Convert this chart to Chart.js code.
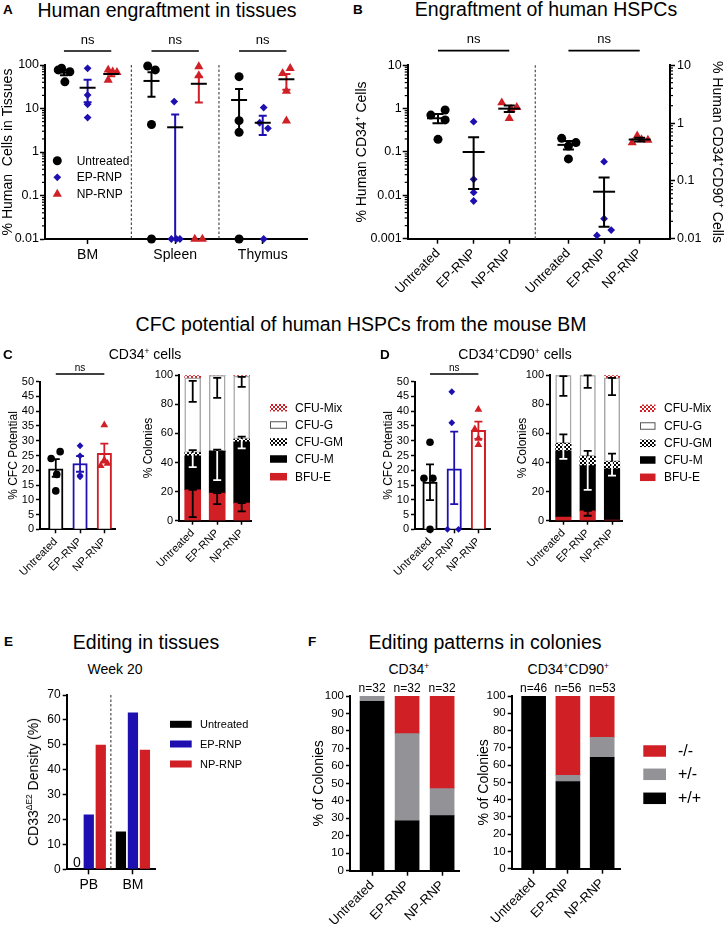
<!DOCTYPE html>
<html>
<head>
<meta charset="utf-8">
<script src="https://cdn.jsdelivr.net/npm/chart.js@4.4.1/dist/chart.umd.min.js"></script>
<style>
  html, body { margin:0; padding:0; background:#fff; }
  #fig { position:relative; width:726px; height:926px; overflow:hidden; font-family:"Liberation Sans", Arial, Helvetica, sans-serif; color:#000; }
  .t { position:absolute; white-space:nowrap; line-height:1; }
  .t sup { font-size:0.6em; line-height:0; vertical-align:0; position:relative; top:-0.6em; }
  canvas { position:absolute; }
</style>
</head>
<body>
<div id="fig"></div>
<script>
// ======================= DATA =======================
const treatments = ['Untreated', 'EP-RNP', 'NP-RNP'];

// Panel A: % human cells per mouse (undetectable plotted at axis floor 0.01)
const tissuesA = ['BM', 'Spleen', 'Thymus'];
const aUntreated = [[84, 77, 70, 41], [95, 77, 4.3, 0.01], [54, 5.25, 2.83, 0.01]];
const aEP = [[84, 20.4, 12.5, 6.2], [14.4, 0.01, 0.01, 0.01], [10.5, 4.7, 3.5, 0.01]];
const aNP = [[77, 70, 68, 45], [92, 57, 0.01, 0.01], [84, 64, 25, 5.2]];
const aMean = [[67, 30, 62], [43, 3.7, 37], [15.7, 4.7, 47]];
const aLow = [[58, 14, 55], [18.7, 0.01, 13.8], [3, 2.46, 27]];
const aHigh = [[76, 46, 68], [68, 7.3, 54], [28, 6.8, 62]];
const aTicks = [0.01, 0.1, 1, 10, 100];

// Panel B
const bCD34 = [[0.71, 0.93, 0.55, 0.196], [0.5, 0.0234, 0.0117, 0.0074], [1.37, 1.07, 0.6, 0.98]];
const bCD34Mean = [0.6, 0.1, 1.0];
const bCD34Low = [0.46, 0.014, 0.84];
const bCD34High = [0.75, 0.218, 1.19];
const bCD90 = [[0.545, 0.46, 0.40, 0.24], [0.215, 0.0222, 0.0141, 0.0114], [0.458, 0.6, 0.52, 0.51]];
const bCD90Mean = [0.42, 0.065, 0.52];
const bCD90Low = [0.35, 0.0161, 0.48];
const bCD90High = [0.49, 0.115, 0.56];
const bTicksLeft = [0.001, 0.01, 0.1, 1, 10];
const bTicksRight = [0.01, 0.1, 1, 10];

// Panel C (CD34+)
const cCFC = [[24, 26.3, 18.6, 13], [28.3, 24.9, 18.3, 17.8], [35.3, 21.5, 22.3, 23.5]];
const cCFCMean = [20.5, 22.3, 25.7];
const cCFCLow = [17.8, 19.5, 22.6];
const cCFCHigh = [23.8, 24.8, 29];
const colonyTypes = ['CFU-Mix', 'CFU-G', 'CFU-GM', 'CFU-M', 'BFU-E'];
const cBFUE = [21.2, 19.0, 12.1];
const cCFUM = [23.5, 28.9, 42.2];
const cCFUGM = [2.1, 0, 1.9];
const cCFUG = [51.4, 52.1, 43.3];
const cCFUMix = [1.8, 0, 0.5];
const cErrBFUE = [[2.5, 21.2], [11.4, 19.0], [6.4, 12.1]];
const cErrMGM = [[36.8, 48.6], [27.9, 48.9], [49.8, 57.8]];
const cErrG = [[81.7, 96.1], [84.5, 98.2], [92, 98.9]];

// Panel D (CD34+CD90+)
const dCFC = [[29.5, 17.3, 17.3, 0], [46.6, 36.1, 0, 0], [40.6, 34.0, 30.8, 28.6]];
const dCFCMean = [16.0, 20.5, 33.5];
const dCFCLow = [9.9, 8.5, 30.6];
const dCFCHigh = [22, 33.1, 36.5];
const dBFUE = [2.5, 6.8, 0.5];
const dCFUM = [45.5, 31.1, 35.1];
const dCFUGM = [5.2, 6.4, 5.0];
const dCFUG = [46.8, 55.7, 57.6];
const dCFUMix = [0, 0, 1.8];
const dErrBFUE = [null, [3.4, 6.8], null];
const dErrMGM = [[42.5, 59.4], [21.2, 48], [31, 46.1]];
const dErrG = [[85.8, 99.5], [91.3, 100], [86.3, 98.2]];

// Panel E
const eTissues = ['PB', 'BM'];
const eUntreated = [0, 15.2];
const eEP = [22, 63];
const eNP = [50, 48];

// Panel F
const genotypes = ['-/-', '+/-', '+/+'];
const fCD34WT = [97, 28.5, 31.5];
const fCD34Het = [3, 50, 15.5];
const fCD34KO = [0, 21.5, 53];
const fCD34N = [32, 32, 32];
const fCD90WT = [100, 50.5, 64.5];
const fCD90Het = [0, 3.5, 11.5];
const fCD90KO = [0, 46, 24];
const fCD90N = [46, 56, 53];

// ======================= LAYOUT / STYLE =======================
// scatter spread of individual mice around their column (x units)
const aJitU = [[-0.1, -0.24, 0.25, 0.04], [-0.16, 0.16, 0, 0], [0, 0, 0, 0]];
const aJitE = [[0, 0, 0, 0], [-0.04, -0.16, 0.05, 0.2], [0.04, -0.13, 0.22, 0.04]];
const aJitN = [[-0.13, 0.06, 0.24, -0.13], [0, 0, -0.17, 0.15], [0.16, -0.16, 0, 0]];
const bJit34 = [[-0.2, 0.2, 0.2, 0], [0, 0, 0, 0], [-0.21, 0.21, 0, 0.05]];
const bJit90 = [[-0.19, 0.21, 0, 0], [0, 0, 0.2, -0.2], [-0.21, -0.07, 0.05, 0.23]];
const cJit = [[-0.19, 0.18, 0.04, 0], [0, 0, 0, 0], [0, -0.15, 0.13, 0]];
const dJit = [[0, -0.25, 0.12, 0], [-0.1, -0.1, -0.28, 0.18], [0, -0.15, 0, 0]];
const A_X = [0, 3.7, 7.4];
const B_X = [0, 1, 2, 3.66, 4.66, 5.66];

const BLACK = '#000000', BLUE = '#1e10b0', RED = '#d11f26', GRAY = '#939397';
const SERIES = [{style: 'circle', color: BLACK}, {style: 'rectRot', color: BLUE}, {style: 'triangle', color: RED}];
const FONT = '"Liberation Sans", Arial, Helvetica, sans-serif';
Chart.defaults.font.family = FONT;
Chart.defaults.color = '#000';
Chart.defaults.animation = false;
Chart.defaults.plugins.legend.display = false;
Chart.defaults.plugins.tooltip.enabled = false;

const fig = document.getElementById('fig');

function checker(c1, c2, s) {
  const cv = document.createElement('canvas'); cv.width = cv.height = 2 * s;
  const g = cv.getContext('2d');
  g.fillStyle = c1; g.fillRect(0, 0, 2 * s, 2 * s);
  g.fillStyle = c2; g.fillRect(0, 0, s, s); g.fillRect(s, s, s, s);
  return g.createPattern(cv, 'repeat');
}
const gmPattern = checker('#ffffff', '#000000', 2);
const mixPattern = checker('#ffffff', RED, 2);

function marker(ctx, style, x, y, r, col) {
  ctx.fillStyle = col; ctx.beginPath();
  if (style === 'circle') ctx.arc(x, y, r, 0, Math.PI * 2);
  else if (style === 'rectRot') { ctx.moveTo(x, y - r); ctx.lineTo(x + r, y); ctx.lineTo(x, y + r); ctx.lineTo(x - r, y); ctx.closePath(); }
  else {
    for (let k = 0; k < 3; k++) {
      const a = k * 2 * Math.PI / 3; const px = x + Math.sin(a) * r, py = y - Math.cos(a) * r;
      if (k) ctx.lineTo(px, py); else ctx.moveTo(px, py);
    }
    ctx.closePath();
  }
  ctx.fill();
}

const DECO = new Map();
const decoPlugin = {
  id: 'deco',
  beforeDatasetsDraw(chart) {
    const o = DECO.get(chart.canvas); if (!o || !o.vlines) return;
    const ctx = chart.ctx, ca = chart.chartArea, xs = chart.scales.x;
    ctx.save(); ctx.strokeStyle = '#4d4d4d'; ctx.lineWidth = 1.2; ctx.setLineDash([2.5, 2]);
    o.vlines.forEach(v => { const x = xs.getPixelForValue(v); ctx.beginPath(); ctx.moveTo(x, ca.top - (o.vlineUp || 0)); ctx.lineTo(x, ca.bottom); ctx.stroke(); });
    ctx.restore();
  },
  afterDatasetsDraw(chart) {
    const o = DECO.get(chart.canvas); if (!o) return;
    const ctx = chart.ctx, ca = chart.chartArea, xs = chart.scales.x;
    const ox = o.origin[0], oy = o.origin[1];
    ctx.save();
    const es = o.errStyle || {};
    (o.errs || []).forEach(e => {
      if (!e) return;
      const ys = chart.scales[e.yID || 'y'];
      const x = xs.getPixelForValue(e.x);
      const yl = ys.getPixelForValue(e.lo), yh = ys.getPixelForValue(e.hi);
      const cw = (es.capW || 8) / 2;
      ctx.lineWidth = es.lw || 2; ctx.lineCap = 'butt';
      const seg = (ya, yb, col, capA, capB) => {
        ctx.strokeStyle = col; ctx.beginPath(); ctx.moveTo(x, ya); ctx.lineTo(x, yb);
        if (capA) { ctx.moveTo(x - cw, ya); ctx.lineTo(x + cw, ya); }
        if (capB) { ctx.moveTo(x - cw, yb); ctx.lineTo(x + cw, yb); }
        ctx.stroke();
      };
      if (e.split != null) {
        if (e.split >= e.hi) seg(yl, yh, '#fff', true, true);
        else if (e.split <= e.lo) seg(yl, yh, '#000', true, true);
        else { const ysp = ys.getPixelForValue(e.split); seg(yl, ysp, '#fff', true, false); seg(ysp, yh, '#000', false, true); }
      } else seg(yl, yh, e.color || '#000', e.capLo !== false, true);
      if (e.mean != null) {
        const ym = ys.getPixelForValue(e.mean), mw = (es.meanW || 16) / 2;
        ctx.strokeStyle = '#000'; ctx.beginPath(); ctx.moveTo(x - mw, ym); ctx.lineTo(x + mw, ym); ctx.stroke();
      }
    });
    (o.sig || []).forEach(g => {
      const x1 = xs.getPixelForValue(g.x1), x2 = xs.getPixelForValue(g.x2), y = g.y - oy;
      ctx.strokeStyle = '#000'; ctx.lineWidth = g.lw || 1.7;
      ctx.beginPath(); ctx.moveTo(x1, y); ctx.lineTo(x2, y); ctx.stroke();
      ctx.fillStyle = '#000'; ctx.font = g.size + 'px ' + FONT; ctx.textAlign = 'center'; ctx.textBaseline = 'alphabetic';
      ctx.fillText('ns', (x1 + x2) / 2, g.ty - oy);
    });
    (o.texts || []).forEach(t => {
      const ys = chart.scales[t.yID || 'y'];
      ctx.fillStyle = '#000'; ctx.font = t.size + 'px ' + FONT; ctx.textAlign = 'center'; ctx.textBaseline = 'alphabetic';
      ctx.fillText(t.text, xs.getPixelForValue(t.x), ys.getPixelForValue(t.y) + t.dy);
    });
    if (o.zeroLabels) {
      ctx.fillStyle = '#000'; ctx.font = o.zeroLabels.size + 'px ' + FONT; ctx.textAlign = 'center'; ctx.textBaseline = 'alphabetic';
      chart.data.datasets.forEach((ds, i) => {
        const meta = chart.getDatasetMeta(i);
        ds.data.forEach((v, j) => { if (v === 0) { const el = meta.data[j]; ctx.fillText('0', el.x, el.y - 2.5); } });
      });
    }
    (o.legend || []).forEach(it => {
      const x = it.x - ox, y = it.y - oy;
      if (it.point) marker(ctx, it.point, x, y, it.r, it.color);
      else {
        ctx.fillStyle = it.fill; ctx.fillRect(x, y - it.h / 2, it.w, it.h);
        if (it.stroke) { ctx.strokeStyle = it.stroke; ctx.lineWidth = 1; ctx.strokeRect(x + 0.5, y - it.h / 2 + 0.5, it.w - 1, it.h - 1); }
      }
      ctx.fillStyle = '#000'; ctx.font = it.size + 'px ' + FONT; ctx.textAlign = 'left'; ctx.textBaseline = 'middle';
      ctx.fillText(it.label, it.tx - ox, y + 0.5);
    });
    ctx.restore();
  },
  afterDraw(chart) {
    const o = DECO.get(chart.canvas); if (!o || !o.minor) return;
    const ctx = chart.ctx; ctx.save(); ctx.strokeStyle = '#000'; ctx.lineWidth = 1.2;
    o.minor.forEach(id => {
      const s = chart.scales[id]; const right = s.position === 'right';
      const x0 = right ? s.left : s.right, len = 3;
      const lo = Math.round(Math.log10(s.min)), hi = Math.round(Math.log10(s.max));
      for (let d = lo; d < hi; d++) for (let k = 2; k <= 9; k++) {
        const y = s.getPixelForValue(k * Math.pow(10, d));
        ctx.beginPath(); ctx.moveTo(x0, y); ctx.lineTo(x0 + (right ? len : -len), y); ctx.stroke();
      }
    });
    ctx.restore();
  }
};
Chart.register(decoPlugin);

function tickGrid(tl) { return {display: true, drawOnChartArea: false, drawTicks: true, tickLength: tl, tickWidth: 1.5, tickColor: '#000', offset: false}; }
const axisBorder = {display: true, color: '#000', width: 2};
function yTitle(text, size, pad) {
  return text ? {display: true, text, color: '#000', font: {size, family: FONT}, padding: {top: pad, bottom: 0}} : {display: false};
}
function yLin(o) {
  return {type: 'linear', position: o.position || 'left', min: o.min, max: o.max, stacked: !!o.stacked,
    ticks: {stepSize: o.step, font: {size: o.font}, padding: o.pad ?? 2, color: '#000', autoSkip: false},
    grid: tickGrid(o.tl ?? 4), border: axisBorder, title: yTitle(o.title, o.tfont, o.tpad)};
}
function yLog(o) {
  return {type: 'logarithmic', position: o.position || 'left', min: o.min, max: o.max,
    afterBuildTicks: s => { s.ticks = o.majors.map(v => ({value: v})); },
    ticks: {font: {size: o.font}, padding: o.pad ?? 1, color: '#000', autoSkip: false, callback: v => String(v)},
    grid: tickGrid(o.tl ?? 5), border: axisBorder, title: yTitle(o.title, o.tfont, o.tpad)};
}
function xLin(o) {
  return {type: 'linear', min: o.min, max: o.max, offset: false, stacked: !!o.stacked,
    afterBuildTicks: s => { s.ticks = o.pos.map(v => ({value: v})); },
    ticks: {autoSkip: false, minRotation: o.rot || 0, maxRotation: o.rot || 0, font: {size: o.font}, padding: o.pad ?? 2, color: '#000', callback: (v, i) => o.labels[i]},
    grid: tickGrid(o.tl ?? 5), border: axisBorder};
}

function mk(box, config, deco) {
  const cv = document.createElement('canvas');
  const w = Math.round(box.cr - box.cl), h = Math.round(box.cb - box.ct);
  cv.width = w; cv.height = h;
  Object.assign(cv.style, {left: box.cl + 'px', top: box.ct + 'px', width: w + 'px', height: h + 'px'});
  fig.appendChild(cv);
  DECO.set(cv, Object.assign({origin: [box.cl, box.ct]}, deco || {}));
  const o = config.options = config.options || {};
  Object.assign(o, {responsive: false, maintainAspectRatio: false, devicePixelRatio: 1, animation: false, events: []});
  o.layout = {padding: {left: 0, top: box.T - box.ct, right: box.rightAxis ? 0 : box.cr - box.R, bottom: 0}};
  const sc = o.scales;
  sc.x.afterFit = s => { s.height = box.cb - box.B; };
  sc.y.afterFit = s => { s.width = box.L - box.cl; };
  if (sc.y2) sc.y2.afterFit = s => { s.width = box.cr - box.R; };
  return new Chart(cv.getContext('2d'), config);
}

function scat(label, data, m, r, extra) {
  return Object.assign({type: 'scatter', label, data, pointStyle: SERIES[m].style, pointRadius: r,
    pointBackgroundColor: SERIES[m].color, pointBorderColor: SERIES[m].color, pointBorderWidth: 0, clip: false, order: 1}, extra || {});
}
const RADII = {circle: 4.5, rectRot: 3.9, triangle: 5.3};

// ======================= PANEL A =======================
(function () {
  const pts = (vals, jit, m) => { const out = []; vals.forEach((arr, g) => arr.forEach((v, i) => out.push({x: A_X[g] + m + jit[g][i], y: v}))); return out; };
  const errs = [];
  tissuesA.forEach((t, g) => treatments.forEach((tr, m) => errs.push({x: A_X[g] + m, lo: aLow[g][m], hi: aHigh[g][m], mean: aMean[g][m], color: SERIES[m].color})));
  const vl = [0, 1].map(g => (A_X[g] + 2 + A_X[g + 1]) / 2);
  mk({L: 45, T: 65, R: 308, B: 239, cl: 0, ct: 25, cr: 313, cb: 275}, {
    type: 'scatter',
    data: {datasets: [
      scat('Untreated', pts(aUntreated, aJitU, 0), 0, RADII.circle),
      scat('EP-RNP', pts(aEP, aJitE, 1), 1, RADII.rectRot),
      scat('NP-RNP', pts(aNP, aJitN, 2), 2, RADII.triangle)]},
    options: {scales: {
      x: xLin({min: -0.8, max: 10.3, pos: A_X.map(v => v + 1), labels: tissuesA, font: 14, rot: 0, tl: 5, pad: 3}),
      y: yLog({min: 0.01, max: 100, majors: aTicks, font: 12.5, title: '% Human  Cells in Tissues', tfont: 14, tpad: 0, tl: 5, pad: 1})}}
  }, {
    vlines: vl, errs, errStyle: {capW: 8, meanW: 16, lw: 2}, minor: ['y'],
    sig: A_X.map(g => ({x1: g, x2: g + 2, y: 51, ty: 43.5, size: 13})),
    legend: treatments.map((tr, m) => ({x: 57.3, y: [160.7, 177.3, 194][m], point: SERIES[m].style, r: RADII[SERIES[m].style], color: SERIES[m].color, label: tr, tx: 76.7, size: 12}))
  });
})();

// ======================= PANEL B =======================
(function () {
  const ds = [];
  treatments.forEach((tr, m) => {
    ds.push(scat(tr, bCD34[m].map((v, i) => ({x: B_X[m] + bJit34[m][i], y: v})), m, RADII[SERIES[m].style], {yAxisID: 'y'}));
    ds.push(scat(tr, bCD90[m].map((v, i) => ({x: B_X[m + 3] + bJit90[m][i], y: v})), m, RADII[SERIES[m].style], {yAxisID: 'y2'}));
  });
  const errs = [];
  treatments.forEach((tr, m) => {
    errs.push({x: B_X[m], lo: bCD34Low[m], hi: bCD34High[m], mean: bCD34Mean[m], yID: 'y'});
    errs.push({x: B_X[m + 3], lo: bCD90Low[m], hi: bCD90High[m], mean: bCD90Mean[m], yID: 'y2'});
  });
  mk({L: 407.7, T: 65.3, R: 670, B: 238.7, cl: 345, ct: 25, cr: 726, cb: 310, rightAxis: true}, {
    type: 'scatter',
    data: {datasets: ds},
    options: {scales: {
      x: xLin({min: -0.85, max: 6.51, pos: B_X, labels: treatments.concat(treatments), font: 13, rot: 45, tl: 5, pad: 2}),
      y: yLog({min: 0.001, max: 10, majors: bTicksLeft, font: 12.5, title: '% Human CD34\u207A Cells', tfont: 14, tpad: 8.6, tl: 5, pad: 1}),
      y2: yLog({position: 'right', min: 0.01, max: 10, majors: bTicksRight, font: 12.5, title: '% Human CD34\u207ACD90\u207A Cells', tfont: 14, tpad: 1, tl: 5, pad: 2})}}
  }, {
    vlines: [2.73], errs, errStyle: {capW: 11, meanW: 22, lw: 2}, minor: ['y', 'y2'],
    sig: [{x1: B_X[0], x2: B_X[2], y: 50.7, ty: 43, size: 13}, {x1: B_X[3], x2: B_X[5], y: 50.7, ty: 43, size: 13}]
  });
})();

// ======================= PANELS C / D =======================
const SMALL_R = {circle: 3.8, rectRot: 3.4, triangle: 4.5};
function cfcChart(box, points, jit, mean, lo, hi, xr, sigY) {
  const ds = treatments.map((tr, m) => scat(tr, points[m].map((v, i) => ({x: m + jit[m][i], y: v})), m, SMALL_R[SERIES[m].style]));
  ds.push({type: 'bar', label: 'mean', data: mean.map((v, i) => ({x: i, y: v})), backgroundColor: '#fff',
    borderColor: SERIES.map(s => s.color), borderWidth: 2, barThickness: 14.5, order: 2});
  mk(box, {
    type: 'bar', data: {datasets: ds},
    options: {scales: {
      x: xLin({min: xr[0], max: xr[1], pos: [0, 1, 2], labels: treatments, font: 11, rot: 45, tl: 4, pad: 2}),
      y: yLin({min: 0, max: 50, step: 5, font: 11, title: '% CFC Potential', tfont: 12, tpad: box.tpad, tl: 4, pad: 2})}}
  }, {
    errs: treatments.map((tr, m) => ({x: m, lo: lo[m], hi: hi[m], color: SERIES[m].color})),
    errStyle: {capW: 8, lw: 1.8},
    sig: [{x1: 0, x2: 2, y: sigY, ty: sigY - 3, size: 10, lw: 1.5}]
  });
}
function colonyChart(box, segs, eBFU, eMGM, eG, xr, leg) {
  const fills = [RED, BLACK, gmPattern, '#ffffff', mixPattern];
  const names = colonyTypes.slice().reverse();
  const datasets = segs.map((arr, k) => ({label: names[k], data: arr.map((v, i) => ({x: i, y: v})), backgroundColor: fills[k],
    borderColor: '#a8a8a8', borderWidth: k === 3 ? 1.5 : 0, borderSkipped: false, barThickness: box.bw}));
  const errs = [];
  [0, 1, 2].forEach(i => {
    if (eBFU[i]) errs.push({x: i, lo: eBFU[i][0], hi: eBFU[i][1], color: '#000'});
    errs.push({x: i, lo: eMGM[i][0], hi: eMGM[i][1], split: segs[0][i] + segs[1][i] + segs[2][i]});
    errs.push({x: i, lo: eG[i][0], hi: eG[i][1], color: '#000'});
  });
  const legFills = [mixPattern, '#ffffff', gmPattern, BLACK, RED];
  mk(box, {
    type: 'bar', data: {datasets},
    options: {scales: {
      x: xLin({min: xr[0], max: xr[1], pos: [0, 1, 2], labels: treatments, font: 11, rot: 45, tl: 4, pad: 2, stacked: true}),
      y: yLin({min: 0, max: 100, step: 20, font: 11, title: '% Colonies', tfont: 12, tpad: box.tpad, tl: 4, pad: 2, stacked: true})}}
  }, {
    errs, errStyle: {capW: 8, lw: 1.8},
    legend: colonyTypes.map((lab, i) => ({x: leg.x, y: leg.ys[i], w: leg.w, h: 7.5, fill: legFills[i], stroke: i === 1 ? '#555' : null, label: lab, tx: leg.tx, size: 12}))
  });
}
cfcChart({L: 40, T: 381.7, R: 115, B: 529.3, cl: 0, ct: 360, cr: 120, cb: 600, tpad: 6.5}, cCFC, cJit, cCFCMean, cCFCLow, cCFCHigh, [-0.65, 2.44], 374);
colonyChart({L: 179, T: 375.3, R: 251, B: 520.7, cl: 135, ct: 360, cr: 360, cb: 600, tpad: 6.8, bw: 16},
  [cBFUE, cCFUM, cCFUGM, cCFUG, cCFUMix], cErrBFUE, cErrMGM, cErrG, [-0.56, 2.38],
  {x: 270, w: 17, tx: 295, ys: [407.7, 425, 442, 459, 476.7]});
cfcChart({L: 415, T: 381.7, R: 490.7, B: 529.3, cl: 375, ct: 360, cr: 495, cb: 600, tpad: 6.1}, dCFC, dJit, dCFCMean, dCFCLow, dCFCHigh, [-0.62, 2.5], 374);
colonyChart({L: 550, T: 375.3, R: 622, B: 520.7, cl: 506, ct: 360, cr: 726, cb: 600, tpad: 9.8, bw: 15.5},
  [dBFUE, dCFUM, dCFUGM, dCFUG, dCFUMix], dErrBFUE, dErrMGM, dErrG, [-0.55, 2.41],
  {x: 640, w: 15.5, tx: 664, ys: [408.3, 426, 443.3, 460, 477.3]});

// ======================= PANEL E =======================
(function () {
  const bar = (label, data, col) => ({label, data, backgroundColor: col, categoryPercentage: 0.815, barPercentage: 0.855});
  mk({L: 66.7, T: 695, R: 155, B: 869.3, cl: 40, ct: 680, cr: 270, cb: 905}, {
    type: 'bar',
    data: {labels: eTissues, datasets: [bar('Untreated', eUntreated, BLACK), bar('EP-RNP', eEP, BLUE), bar('NP-RNP', eNP, RED)]},
    options: {scales: {
      x: {type: 'category', offset: true, ticks: {font: {size: 14}, padding: 2, color: '#000'}, grid: tickGrid(5), border: axisBorder},
      y: yLin({min: 0, max: 70, step: 10, font: 12, tl: 4, pad: 2})}}
  }, {
    vlines: [0.5], zeroLabels: {size: 14},
    legend: treatments.map((tr, m) => ({x: 170, y: [724.3, 744, 764][m], w: 21.7, h: 7, fill: SERIES[m].color, label: tr, tx: 200, size: 11}))
  });
})();

// ======================= PANEL F =======================
function fChart(box, wt, het, ko, n, xr, legend) {
  const mkDs = (label, arr, col) => ({label, data: arr.map((v, i) => ({x: i, y: v})), backgroundColor: col, barThickness: 24});
  mk(box, {
    type: 'bar',
    data: {datasets: [mkDs('+/+', wt, BLACK), mkDs('+/-', het, GRAY), mkDs('-/-', ko, RED)]},
    options: {scales: {
      x: xLin({min: xr[0], max: xr[1], pos: [0, 1, 2], labels: treatments, font: 13, rot: 45, tl: 5, pad: 2, stacked: true}),
      y: yLin({min: 0, max: 100, step: 10, font: 11.5, title: '% of Colonies', tfont: 14, tpad: box.tpad, tl: 4, pad: 2, stacked: true})}}
  }, {
    texts: n.map((v, i) => ({x: i, y: wt[i] + het[i] + ko[i], dy: -3.7, text: 'n=' + v, size: 12})),
    legend: legend ? genotypes.map((gt, k) => ({x: 643.3, y: [751, 774.3, 798.3][k], w: 22.7, h: 11.5, fill: [RED, GRAY, BLACK][k], label: gt, tx: 678, size: 16})) : []
  });
}
fChart({L: 350, T: 696, R: 459.3, B: 870.7, cl: 300, ct: 680, cr: 462, cb: 926, tpad: 10.6}, fCD34WT, fCD34Het, fCD34KO, fCD34N, [-0.63, 2.49], false);
fChart({L: 511.7, T: 696, R: 620, B: 868.7, cl: 462, ct: 680, cr: 726, cb: 926, tpad: 13.6}, fCD90WT, fCD90Het, fCD90KO, fCD90N, [-0.64, 2.52], true);

// ======================= TEXT =======================
function T(html, x, base, size, opt) {
  opt = opt || {};
  const d = document.createElement('div'); d.className = 't'; d.innerHTML = html;
  d.style.fontSize = size + 'px'; d.style.top = (base - 0.8465 * size) + 'px'; d.style.left = x + 'px';
  if (opt.bold) d.style.fontWeight = 'bold';
  if (!opt.left) d.style.transform = 'translateX(-50%)';
  fig.appendChild(d);
}
T('A', 3, 14.5, 13.5, {bold: true, left: true});
T('Human engraftment in tissues', 167, 17.5, 19.5);
T('B', 353, 14.5, 13.5, {bold: true, left: true});
T('Engraftment of human HSPCs', 546, 17, 19.5);
T('CFC potential of human HSPCs from the mouse BM', 361, 331.7, 19.5);
T('C', 3, 359.3, 13.5, {bold: true, left: true});
T('CD34<sup>+</sup> cells', 145, 359.3, 14);
T('D', 380, 359.3, 13.5, {bold: true, left: true});
T('CD34<sup>+</sup>CD90<sup>+</sup> cells', 515, 359.3, 14);
T('E', 4, 646, 13.5, {bold: true, left: true});
T('Editing in tissues', 146, 649.3, 19.5);
T('Week 20', 115, 674.3, 14);
T('F', 308, 646, 13.5, {bold: true, left: true});
T('Editing patterns in colonies', 485, 649.3, 19.5);
T('CD34<sup>+</sup>', 408.8, 674.3, 14);
T('CD34<sup>+</sup>CD90<sup>+</sup>', 568.3, 674.3, 14);
(function () {
  const d = document.createElement('div'); d.className = 't';
  d.innerHTML = 'CD33<sup style="top:-0.75em">\u0394E2</sup> Density (%)';
  d.style.fontSize = '14px'; d.style.left = '33px'; d.style.top = '782px';
  d.style.transform = 'translate(-50%,-50%) rotate(-90deg)';
  fig.appendChild(d);
})();
</script>
</body>
</html>
